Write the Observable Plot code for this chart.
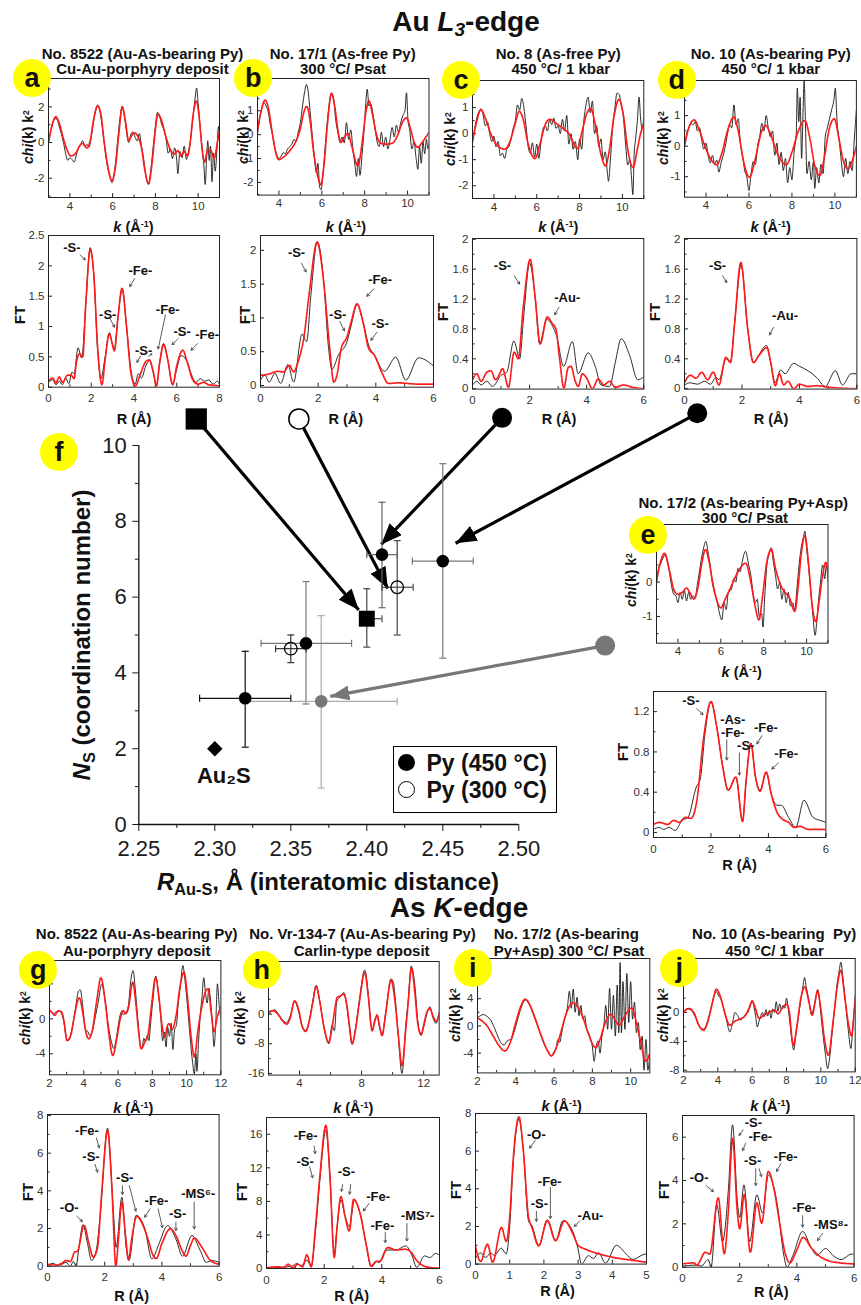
<!DOCTYPE html>
<html><head><meta charset="utf-8">
<script src="https://cdn.jsdelivr.net/npm/d3@7"></script>
<script src="https://cdn.jsdelivr.net/npm/@observablehq/plot@0.6"></script>
<style>
body{margin:0;background:#fff;}
#fig{position:relative;width:861px;height:1305px;overflow:hidden;font-family:"Liberation Sans",Arial,Helvetica,sans-serif;color:#111;background:#fff;}
.t{position:absolute;white-space:nowrap;line-height:1;font-weight:bold;transform:translate(-50%,-50%);}
.rot{transform:translate(-50%,-50%) rotate(-90deg);}
.t sub{font-size:0.68em;vertical-align:-0.28em;line-height:0;}
.t sup{font-size:0.62em;vertical-align:0.5em;line-height:0;}
.badge{position:absolute;width:38px;height:38px;border-radius:50%;background:#ffff00;transform:translate(-50%,-50%);font-weight:bold;font-size:27px;line-height:38px;text-align:center;}
.legend{position:absolute;border:1.5px solid #000;background:#fff;}
.legend .it{position:absolute;left:0;font-weight:bold;font-size:23px;line-height:1;white-space:nowrap;}
.legend .dot{position:absolute;width:17px;height:17px;border-radius:50%;box-sizing:border-box;}
</style></head>
<body><div id="fig"></div>
<script>
// ===================== DATA =====================
// Au L3-edge, k-space chi(k)k^2 : experiment (black) and fit (red)   [k, value]
const aK_exp=[[3.0,0.0],[3.1,0.6],[3.2,1.1],[3.3,1.35],[3.4,1.3],[3.5,0.9],[3.6,0.5],[3.7,0.0],[3.8,-0.6],[3.9,-1.0],[4.0,-0.85],[4.1,-0.95],[4.2,-1.1],[4.3,-0.7],[4.4,-0.3],[4.5,-0.1],[4.6,0.1],[4.7,-0.25],[4.8,-0.1],[4.9,-0.25],[5.0,0.3],[5.1,1.1],[5.2,1.8],[5.3,2.1],[5.4,1.8],[5.5,1.0],[5.6,0.0],[5.7,-0.9],[5.8,-1.6],[5.9,-2.0],[5.97,-2.25],[6.05,-1.9],[6.15,-1.0],[6.25,0.3],[6.35,1.4],[6.45,2.05],[6.55,1.5],[6.65,0.6],[6.75,0.0],[6.85,0.45],[6.95,0.6],[7.05,0.3],[7.15,0.1],[7.25,0.5],[7.35,-0.2],[7.45,-0.9],[7.55,-1.8],[7.68,-2.35],[7.8,-1.4],[7.9,-0.2],[8.0,0.9],[8.1,1.7],[8.2,1.45],[8.3,1.0],[8.4,0.7],[8.5,0.2],[8.6,-0.6],[8.7,-0.35],[8.8,-0.9],[8.9,-0.3],[9.0,-1.0],[9.05,-1.75],[9.15,-0.5],[9.25,-0.85],[9.35,-0.2],[9.45,-0.95],[9.55,-0.5],[9.65,0.2],[9.75,1.3],[9.85,2.4],[9.93,3.05],[10.0,2.2],[10.1,0.8],[10.2,-0.5],[10.27,-1.3],[10.33,-2.35],[10.4,-0.8],[10.45,0.1],[10.52,-1.0],[10.58,-0.2],[10.65,-2.2],[10.72,-0.6],[10.8,-1.6],[10.88,-0.4],[10.95,0.9],[11.0,0.3]];
const aK_fit=[[3.0,0.0],[3.15,0.9],[3.35,1.45],[3.5,1.1],[3.7,0.2],[3.85,-0.35],[4.05,-0.75],[4.3,-0.55],[4.45,-0.2],[4.6,-0.05],[4.8,-0.3],[4.95,0.1],[5.1,1.2],[5.3,2.05],[5.45,1.6],[5.6,0.1],[5.8,-1.5],[5.97,-2.15],[6.15,-1.2],[6.3,0.6],[6.45,2.0],[6.6,1.2],[6.75,0.1],[6.85,0.3],[7.0,0.55],[7.2,0.3],[7.35,-0.3],[7.5,-1.5],[7.68,-2.3],[7.85,-1.1],[8.0,0.7],[8.12,1.6],[8.3,1.2],[8.5,0.3],[8.7,-0.4],[8.9,-0.65],[9.05,-0.45],[9.2,-0.75],[9.35,-0.5],[9.5,-0.75],[9.62,-0.1],[9.75,1.4],[9.92,2.33],[10.05,1.4],[10.18,-0.3],[10.3,-1.1],[10.45,-0.4],[10.6,-0.45],[10.75,-0.9],[10.9,0.0],[11.0,0.6]];
const bK_exp=[[3.0,0.0],[3.1,0.7],[3.2,1.1],[3.3,1.35],[3.4,1.2],[3.5,0.95],[3.6,0.4],[3.7,0.0],[3.8,-0.5],[3.9,-0.85],[4.0,-1.0],[4.1,-0.9],[4.2,-0.75],[4.3,-0.8],[4.4,-0.6],[4.5,-0.5],[4.6,-0.4],[4.7,-0.2],[4.8,-0.3],[4.9,0.1],[5.0,0.5],[5.1,1.2],[5.2,1.8],[5.28,2.1],[5.35,1.9],[5.45,1.0],[5.55,0.0],[5.65,-0.9],[5.75,-1.6],[5.82,-1.2],[5.9,-2.2],[5.97,-2.3],[6.05,-1.7],[6.15,-0.6],[6.25,0.5],[6.35,1.3],[6.45,1.75],[6.55,1.5],[6.65,0.6],[6.75,0.1],[6.85,-0.3],[6.95,-0.1],[7.05,-0.35],[7.15,0.5],[7.25,-0.2],[7.35,0.2],[7.45,-0.6],[7.55,-1.3],[7.62,-1.75],[7.7,-1.0],[7.78,-1.7],[7.88,-0.8],[7.98,0.3],[8.05,1.3],[8.12,1.9],[8.2,1.2],[8.28,1.3],[8.38,0.9],[8.48,0.3],[8.58,-0.3],[8.68,-0.5],[8.78,0.1],[8.88,-0.5],[8.98,-0.1],[9.08,-0.6],[9.18,-0.2],[9.28,0.3],[9.38,-0.1],[9.48,0.4],[9.58,0.1],[9.68,0.5],[9.78,0.8],[9.88,1.0],[9.95,1.75],[10.02,0.6],[10.1,0.2],[10.2,-0.6],[10.3,-0.3],[10.4,-1.0],[10.48,-1.45],[10.56,-0.5],[10.64,-1.2],[10.72,-0.3],[10.8,-0.8],[10.88,-0.2],[10.95,-0.6],[11.0,-0.4]];
const bK_fit=[[3.0,0.2],[3.15,0.9],[3.35,1.45],[3.5,1.15],[3.7,0.0],[3.85,-0.75],[4.0,-1.05],[4.2,-0.95],[4.5,-0.68],[4.8,-0.26],[5.0,0.25],[5.15,0.9],[5.3,1.18],[5.45,0.6],[5.6,-0.6],[5.8,-1.7],[5.95,-2.1],[6.1,-1.3],[6.25,0.3],[6.45,1.72],[6.6,1.2],[6.75,0.2],[6.88,-0.33],[7.05,-0.1],[7.22,0.05],[7.4,-0.5],[7.68,-1.3],[7.9,-0.2],[8.05,0.9],[8.2,1.42],[8.35,0.9],[8.55,0.0],[8.74,-0.36],[9.0,-0.4],[9.3,-0.35],[9.55,0.0],[9.75,0.5],[9.95,0.7],[10.15,0.2],[10.3,-0.3],[10.48,-0.53],[10.7,-0.3],[11.0,0.1]];
const cK_exp=[[3.0,-0.3],[3.1,0.2],[3.2,0.6],[3.3,0.85],[3.4,0.95],[3.5,0.7],[3.6,0.3],[3.7,0.45],[3.8,0.0],[3.9,-0.3],[4.0,-0.1],[4.1,-0.5],[4.2,-0.3],[4.3,-0.85],[4.4,-0.75],[4.5,-0.95],[4.6,-0.6],[4.7,-0.5],[4.8,-0.2],[4.9,0.2],[5.0,0.5],[5.1,1.1],[5.2,0.9],[5.3,1.35],[5.4,1.0],[5.5,0.3],[5.6,-0.5],[5.7,-0.75],[5.8,-0.35],[5.9,-0.9],[6.0,-0.4],[6.1,-0.95],[6.2,-0.3],[6.3,0.2],[6.4,0.3],[6.5,0.1],[6.6,0.55],[6.7,0.35],[6.8,0.6],[6.9,0.2],[7.0,0.3],[7.1,0.0],[7.2,0.55],[7.3,0.1],[7.4,0.7],[7.5,-0.4],[7.6,0.0],[7.7,-0.6],[7.8,-0.3],[7.92,-1.0],[8.0,-0.2],[8.1,-0.6],[8.2,0.5],[8.3,1.1],[8.4,1.4],[8.5,0.8],[8.6,1.25],[8.7,0.0],[8.8,0.3],[8.9,-0.5],[9.0,-0.2],[9.1,-1.0],[9.2,-0.7],[9.3,-1.5],[9.35,-1.83],[9.45,-0.9],[9.55,0.3],[9.65,1.0],[9.75,1.56],[9.85,1.5],[9.95,1.1],[10.05,0.6],[10.15,-0.4],[10.25,-1.2],[10.35,-1.0],[10.42,-1.6],[10.49,-2.34],[10.55,-0.8],[10.62,-0.2],[10.7,0.5],[10.78,1.4],[10.85,0.6],[10.92,0.2],[11.0,0.6]];
const cK_fit=[[3.0,-0.32],[3.15,0.3],[3.4,0.92],[3.6,0.6],[3.85,0.0],[4.1,-0.4],[4.5,-0.6],[4.75,-0.3],[5.0,0.4],[5.18,0.86],[5.35,0.6],[5.6,-0.4],[5.92,-0.96],[6.15,-0.4],[6.4,0.35],[6.6,0.55],[6.9,0.4],[7.2,0.22],[7.5,0.0],[7.9,-0.57],[8.15,0.2],[8.35,0.8],[8.52,0.96],[8.75,0.3],[9.0,-0.8],[9.21,-1.24],[9.4,-0.6],[9.6,0.6],[9.84,1.32],[10.05,0.7],[10.25,-0.6],[10.5,-1.3],[10.7,-0.6],[10.85,0.0],[11.0,0.36]];
const dK_exp=[[3.0,0.0],[3.1,0.4],[3.2,0.6],[3.3,0.75],[3.4,0.7],[3.5,0.8],[3.6,0.5],[3.7,0.6],[3.8,0.2],[3.9,-0.1],[4.0,0.1],[4.1,-0.3],[4.2,-0.55],[4.3,-0.3],[4.4,-0.6],[4.5,-0.45],[4.6,-0.85],[4.7,-0.55],[4.8,-0.3],[4.9,0.0],[5.0,0.4],[5.1,0.7],[5.2,0.6],[5.3,1.35],[5.4,0.7],[5.5,0.9],[5.6,0.1],[5.7,-0.3],[5.8,-0.8],[5.9,-1.0],[6.0,-1.45],[6.1,-0.9],[6.2,-0.5],[6.3,-0.6],[6.4,0.0],[6.5,0.3],[6.6,0.75],[6.7,0.5],[6.8,1.0],[6.9,0.6],[7.0,0.3],[7.1,0.5],[7.2,-0.3],[7.3,0.1],[7.4,-0.6],[7.5,-0.2],[7.6,-0.8],[7.7,-0.4],[7.8,-1.2],[7.9,-0.7],[8.0,-1.1],[8.1,-0.2],[8.2,0.4],[8.25,1.9],[8.32,0.8],[8.38,1.6],[8.45,-0.4],[8.52,1.2],[8.57,2.15],[8.62,1.0],[8.7,-0.9],[8.8,-0.5],[8.9,-1.1],[9.0,-0.5],[9.06,-1.38],[9.15,-0.7],[9.25,-1.2],[9.35,-0.6],[9.45,-0.9],[9.55,0.3],[9.65,0.6],[9.75,0.9],[9.85,1.2],[9.95,1.5],[10.02,1.9],[10.1,0.8],[10.2,0.2],[10.3,-0.5],[10.4,-1.0],[10.5,-0.4],[10.6,-0.9],[10.7,-0.5],[10.8,-0.8],[10.9,0.2],[11.0,1.2]];
const dK_fit=[[3.0,0.0],[3.2,0.6],[3.45,0.86],[3.7,0.5],[3.95,0.0],[4.2,-0.4],[4.5,-0.61],[4.75,-0.2],[5.0,0.5],[5.29,0.95],[5.5,0.5],[5.75,-0.5],[6.02,-1.02],[6.3,-0.4],[6.55,0.4],[6.77,0.68],[7.0,0.4],[7.3,-0.2],[7.74,-0.61],[8.0,-0.2],[8.3,0.5],[8.6,0.84],[8.85,0.2],[9.05,-0.6],[9.3,-0.96],[9.5,-0.4],[9.75,0.6],[9.97,0.9],[10.2,0.2],[10.4,-0.5],[10.62,-0.74],[10.8,-0.5],[11.0,0.0]];
const eK_exp=[[3.0,0.0],[3.1,0.4],[3.2,0.55],[3.3,0.7],[3.4,0.8],[3.5,0.6],[3.6,0.3],[3.7,-0.1],[3.8,-0.35],[3.9,-0.4],[4.0,-0.6],[4.1,-0.3],[4.2,-0.5],[4.3,-0.25],[4.4,-0.55],[4.5,-0.3],[4.6,-0.5],[4.7,-0.4],[4.8,-0.45],[4.9,-0.1],[5.0,0.3],[5.1,0.7],[5.2,1.0],[5.3,1.19],[5.4,0.9],[5.5,0.5],[5.6,0.0],[5.7,-0.3],[5.8,-0.5],[5.9,-0.8],[6.05,-1.1],[6.15,-0.6],[6.25,-0.8],[6.35,-0.3],[6.5,-0.2],[6.6,0.1],[6.7,0.0],[6.8,0.4],[6.9,0.3],[7.0,0.6],[7.15,0.9],[7.3,0.5],[7.4,0.2],[7.5,-0.3],[7.6,-0.6],[7.7,-0.5],[7.8,-1.0],[7.9,-0.9],[7.97,-1.31],[8.05,-0.4],[8.15,0.5],[8.25,0.8],[8.35,1.0],[8.45,0.6],[8.55,0.2],[8.65,-0.2],[8.75,0.0],[8.85,-0.5],[8.95,-0.2],[9.05,-0.6],[9.15,-0.3],[9.25,-0.7],[9.35,-0.6],[9.45,-0.8],[9.55,-0.2],[9.65,0.5],[9.75,1.0],[9.85,1.3],[9.92,1.49],[10.0,1.0],[10.1,0.4],[10.2,-0.3],[10.3,-1.0],[10.4,-1.55],[10.47,-1.2],[10.55,-0.6],[10.65,0.0],[10.75,0.5],[10.85,0.1],[10.92,0.5],[11.0,0.0]];
const eK_fit=[[3.0,0.0],[3.15,0.5],[3.38,0.84],[3.6,0.35],[3.8,-0.2],[4.0,-0.36],[4.2,-0.3],[4.4,-0.17],[4.55,-0.3],[4.75,-0.49],[4.95,-0.1],[5.1,0.5],[5.29,0.95],[5.45,0.6],[5.65,-0.1],[5.85,-0.6],[6.0,-0.75],[6.2,-0.5],[6.5,-0.1],[6.8,0.3],[7.16,0.55],[7.4,0.0],[7.6,-0.7],[7.78,-1.1],[7.95,-0.4],[8.15,0.6],[8.36,0.95],[8.55,0.4],[8.8,-0.1],[9.0,-0.3],[9.2,-0.45],[9.45,-0.85],[9.6,-0.2],[9.75,0.8],[9.92,1.36],[10.1,0.5],[10.25,-0.6],[10.43,-1.15],[10.6,-0.5],[10.75,0.2],[10.9,0.58],[11.0,0.3]];
// Au L3-edge, Fourier transforms   [R, FT]
const aFT_exp=[[0,0.08],[0.2,0.12],[0.35,0.04],[0.5,0.1],[0.65,0.04],[0.8,0.15],[0.95,0.06],[1.1,0.25],[1.2,0.22],[1.38,0.65],[1.55,0.48],[1.75,1.4],[1.95,2.3],[2.12,1.85],[2.3,0.6],[2.45,0.14],[2.65,0.5],[2.85,0.9],[2.98,0.72],[3.08,0.62],[3.25,1.15],[3.45,1.62],[3.65,1.0],[3.85,0.3],[4.05,0.05],[4.2,0.22],[4.35,0.15],[4.55,0.35],[4.72,0.44],[4.9,0.25],[5.05,0.02],[5.2,0.4],[5.38,0.72],[5.58,0.45],[5.8,0.05],[6.0,0.3],[6.2,0.52],[6.45,0.45],[6.7,0.2],[6.9,0.08],[7.1,0.14],[7.3,0.1],[7.5,0.12],[7.7,0.05],[7.9,0.1],[8.0,0.05]];
const aFT_fit=[[0,0.1],[0.2,0.15],[0.35,0.07],[0.5,0.17],[0.65,0.08],[0.9,0.2],[1.05,0.2],[1.2,0.14],[1.3,0.4],[1.45,0.55],[1.6,0.5],[1.75,1.4],[1.95,2.27],[2.12,1.85],[2.3,0.65],[2.5,0.04],[2.65,0.45],[2.84,0.88],[2.98,0.72],[3.08,0.6],[3.25,1.15],[3.44,1.63],[3.65,1.0],[3.85,0.25],[4.06,0.02],[4.3,0.22],[4.55,0.42],[4.72,0.45],[4.9,0.25],[5.05,0.02],[5.2,0.4],[5.39,0.7],[5.58,0.45],[5.81,0.04],[6.0,0.35],[6.28,0.61],[6.5,0.4],[6.75,0.12],[7.0,0.05],[7.25,0.08],[7.5,0.04],[7.75,0.03],[8.0,0.02]];
const bFT_exp=[[0,0.08],[0.15,0.15],[0.3,0.05],[0.5,0.18],[0.7,0.03],[0.95,0.31],[1.15,0.05],[1.44,0.76],[1.6,0.65],[1.75,1.35],[1.97,2.13],[2.2,1.5],[2.35,0.6],[2.48,0.24],[2.7,0.45],[3.0,0.65],[3.15,0.9],[3.35,1.2],[3.55,0.95],[3.75,0.6],[3.95,0.45],[4.3,0.21],[4.69,0.42],[5.04,0.08],[5.48,0.41],[6.0,0.29]];
const bFT_fit=[[0,0.15],[0.3,0.17],[0.6,0.21],[0.8,0.2],[1.0,0.3],[1.15,0.2],[1.3,0.35],[1.5,0.7],[1.7,1.4],[1.96,2.12],[2.2,1.5],[2.4,0.55],[2.54,0.05],[2.65,0.15],[2.8,0.55],[3.0,0.72],[3.15,0.95],[3.35,1.21],[3.55,0.95],[3.75,0.55],[3.95,0.45],[4.2,0.2],[4.44,0.03],[4.8,0.04],[5.1,0.03],[5.5,0.02],[6.0,0.02]];
const cFT_exp=[[0,0.05],[0.15,0.1],[0.3,0.05],[0.5,0.1],[0.7,0.03],[1.0,0.18],[1.2,0.22],[1.45,0.64],[1.65,0.4],[1.8,1.0],[2.0,1.68],[2.2,1.2],[2.35,0.6],[2.6,0.93],[2.8,0.84],[2.95,0.7],[3.19,0.3],[3.5,0.63],[3.7,0.2],[4.05,0.48],[4.3,0.3],[4.5,0.05],[4.8,0.03],[5.0,0.35],[5.21,0.67],[5.5,0.45],[5.79,0.12],[6.0,0.16]];
const cFT_fit=[[0,0.12],[0.15,0.2],[0.3,0.1],[0.5,0.22],[0.65,0.24],[0.8,0.12],[0.95,0.2],[1.05,0.27],[1.26,0.02],[1.46,0.49],[1.6,0.4],[1.78,1.1],[2.02,1.73],[2.2,1.2],[2.37,0.6],[2.62,0.96],[2.78,0.88],[2.92,0.8],[3.05,0.4],[3.2,0.01],[3.35,0.28],[3.45,0.3],[3.6,0.1],[3.7,0.03],[3.85,0.2],[4.0,0.14],[4.2,0.0],[4.4,0.13],[4.6,0.05],[4.8,0.1],[5.0,0.02],[5.3,0.05],[5.6,0.02],[6.0,0.0]];
const dFT_exp=[[0,0.05],[0.2,0.08],[0.45,0.06],[0.7,0.1],[0.9,0.06],[1.1,0.15],[1.2,0.12],[1.45,0.4],[1.6,0.37],[1.75,0.9],[1.97,1.66],[2.2,0.8],[2.4,0.35],[2.6,0.46],[2.85,0.58],[3.0,0.35],[3.15,0.08],[3.35,0.25],[3.5,0.2],[3.8,0.34],[4.0,0.3],[4.3,0.24],[4.6,0.15],[4.9,0.03],[5.25,0.24],[5.5,0.05],[5.8,0.2],[6.0,0.2]];
const dFT_fit=[[0,0.08],[0.2,0.18],[0.4,0.14],[0.6,0.22],[0.8,0.12],[1.0,0.22],[1.2,0.05],[1.44,0.42],[1.6,0.35],[1.75,0.9],[1.96,1.69],[2.2,0.8],[2.4,0.35],[2.6,0.45],[2.87,0.55],[3.0,0.35],[3.16,0.04],[3.3,0.2],[3.45,0.05],[3.6,0.1],[3.8,0.0],[4.0,0.06],[4.3,0.03],[4.6,0.04],[5.0,0.02],[6.0,0.0]];
const eFT_exp=[[0,0.03],[0.2,0.05],[0.35,0.03],[0.55,0.05],[0.75,0.02],[1.0,0.12],[1.2,0.15],[1.5,0.46],[1.62,0.52],[1.8,1.0],[2.0,1.3],[2.2,1.05],[2.4,0.67],[2.6,0.42],[2.87,0.55],[3.1,0.11],[3.22,0.5],[3.39,0.89],[3.55,0.55],[3.71,0.42],[3.92,0.6],[4.1,0.38],[4.3,0.27],[4.45,0.27],[4.7,0.15],[4.95,0.05],[5.24,0.32],[5.55,0.15],[5.8,0.12],[6.0,0.1]];
const eFT_fit=[[0,0.08],[0.2,0.1],[0.5,0.08],[0.7,0.12],[0.9,0.1],[1.1,0.15],[1.3,0.14],[1.5,0.3],[1.75,0.95],[2.0,1.3],[2.2,1.05],[2.4,0.67],[2.6,0.42],[2.87,0.55],[3.1,0.11],[3.22,0.5],[3.39,0.88],[3.55,0.55],[3.71,0.41],[3.92,0.6],[4.1,0.38],[4.3,0.2],[4.5,0.13],[4.7,0.1],[4.9,0.05],[5.1,0.06],[5.4,0.03],[6.0,0.03]];
// As K-edge, k-space
const gK_exp=[[2.0,1.0],[2.2,0.6],[2.4,0.8],[2.6,0.9],[2.8,0.0],[3.0,-2.3],[3.1,-2.5],[3.3,-1.3],[3.5,1.0],[3.7,3.2],[3.8,3.3],[3.95,1.2],[4.1,-1.2],[4.25,-1.5],[4.35,-1.9],[4.5,-1.4],[4.7,0.5],[4.85,2.0],[5.05,4.0],[5.25,2.0],[5.45,-1.0],[5.6,-2.5],[5.75,-3.4],[5.9,-2.2],[6.05,-0.3],[6.2,0.8],[6.3,0.5],[6.45,0.7],[6.6,1.5],[6.75,4.5],[6.88,5.5],[7.0,3.5],[7.15,0.0],[7.3,-3.0],[7.4,-3.4],[7.5,-2.2],[7.6,-2.6],[7.7,-1.9],[7.8,-2.5],[7.9,-0.5],[8.05,2.5],[8.2,4.9],[8.35,3.0],[8.5,0.0],[8.6,-2.5],[8.7,-1.5],[8.8,-3.2],[8.9,-1.0],[9.0,-2.0],[9.1,-0.5],[9.2,-3.5],[9.3,-1.2],[9.4,-0.8],[9.5,1.5],[9.65,4.0],[9.78,6.1],[9.9,4.5],[10.05,1.5],[10.2,-2.0],[10.35,-5.0],[10.45,-6.3],[10.55,-4.0],[10.6,-6.0],[10.7,-2.5],[10.8,0.5],[10.9,2.5],[11.0,4.7],[11.1,3.0],[11.2,1.8],[11.3,3.5],[11.4,2.0],[11.5,-0.5],[11.6,-3.16],[11.7,-0.5],[11.8,4.0],[11.9,1.5],[12.0,0.0]];
const gK_fit=[[2.0,1.0],[2.2,0.6],[2.3,0.4],[2.5,0.9],[2.7,0.8],[2.85,-0.3],[3.02,-2.48],[3.25,-1.8],[3.45,0.3],[3.74,2.4],[3.95,0.6],[4.1,-1.3],[4.29,-2.29],[4.5,-1.3],[4.75,2.0],[5.0,4.69],[5.25,2.0],[5.45,-1.5],[5.69,-4.19],[5.95,-2.0],[6.15,0.2],[6.28,0.95],[6.45,0.6],[6.6,1.2],[6.86,4.19],[7.05,1.5],[7.2,-1.5],[7.35,-3.43],[7.55,-2.7],[7.75,-1.8],[7.95,1.5],[8.19,4.69],[8.4,2.2],[8.55,-0.5],[8.72,-2.1],[8.9,-0.7],[8.97,-0.57],[9.15,-1.2],[9.4,0.5],[9.6,3.5],[9.85,5.33],[10.05,2.5],[10.25,-1.8],[10.46,-4.38],[10.65,-1.5],[10.9,1.5],[11.1,3.1],[11.24,3.43],[11.45,0.5],[11.6,-1.5],[11.8,0.3],[12.0,1.33]];
const hK_exp=[[2.0,0.0],[2.2,0.8],[2.4,1.2],[2.6,0.2],[2.9,-1.5],[3.16,-2.3],[3.4,-0.5],[3.68,3.4],[3.95,0.5],[4.15,-3.0],[4.39,-4.4],[4.65,-1.2],[4.85,3.5],[5.07,7.8],[5.3,3.5],[5.55,-3.0],[5.89,-8.0],[6.1,-3.0],[6.25,-4.5],[6.4,3.5],[6.6,4.5],[6.85,5.8],[7.05,2.0],[7.2,-3.0],[7.39,-8.2],[7.6,-4.0],[7.85,3.5],[8.2,11.9],[8.45,4.5],[8.6,-3.0],[8.7,-4.0],[8.85,-1.5],[9.0,-0.5],[9.15,-3.5],[9.32,-5.5],[9.55,0.5],[9.9,9.5],[10.05,8.5],[10.15,5.0],[10.35,-5.0],[10.6,-16.0],[10.85,-3.0],[11.0,3.5],[11.2,13.0],[11.35,10.5],[11.45,7.0],[11.6,-1.0],[11.83,-5.8],[12.0,-3.5],[12.2,0.0],[12.4,2.0],[12.6,-1.0],[12.8,-2.5],[13.0,0.5]];
const hK_fit=[[2.0,0.6],[2.3,0.9],[2.6,0.0],[2.9,-1.8],[3.16,-2.7],[3.4,-1.0],[3.68,3.6],[3.95,1.0],[4.15,-3.0],[4.39,-4.67],[4.65,-1.5],[4.85,3.0],[5.07,7.46],[5.3,3.5],[5.55,-3.0],[5.89,-7.64],[6.1,-3.5],[6.3,2.0],[6.42,4.5],[6.6,4.8],[6.85,5.4],[7.05,2.5],[7.2,-2.5],[7.39,-7.9],[7.6,-4.5],[7.85,3.0],[8.2,11.2],[8.45,4.0],[8.68,-4.5],[8.85,-2.0],[9.0,-0.2],[9.15,-3.0],[9.32,-5.84],[9.55,0.0],[9.9,9.2],[10.15,3.5],[10.35,-5.0],[10.61,-13.9],[10.85,-4.0],[11.0,3.0],[11.21,12.4],[11.45,5.0],[11.6,-2.0],[11.83,-5.4],[12.0,-3.0],[12.2,0.5],[12.4,1.5],[12.6,-0.5],[12.8,-2.0],[13.0,0.0]];
const iK_exp=[[2.0,1.2],[2.15,1.5],[2.3,1.67],[2.5,1.4],[2.7,0.8],[2.9,-0.4],[3.1,-1.8],[3.25,-2.6],[3.4,-2.8],[3.5,-2.4],[3.6,-2.1],[3.75,-2.0],[3.9,-1.0],[4.1,1.0],[4.3,2.8],[4.5,3.8],[4.7,3.2],[4.9,1.8],[5.1,0.3],[5.3,-1.3],[5.5,-2.8],[5.7,-3.8],[5.86,-4.4],[6.0,-3.8],[6.1,-3.3],[6.2,-2.0],[6.3,-2.4],[6.4,-1.0],[6.5,0.5],[6.6,1.5],[6.7,2.8],[6.8,5.1],[6.9,2.6],[7.0,5.4],[7.1,2.0],[7.2,4.2],[7.3,1.5],[7.4,3.0],[7.5,1.0],[7.6,1.5],[7.7,-0.5],[7.8,-1.0],[7.9,-2.0],[8.0,-3.0],[8.09,-5.2],[8.2,-3.0],[8.3,-2.2],[8.4,-4.0],[8.5,-1.5],[8.6,0.0],[8.7,3.0],[8.8,-0.5],[8.9,5.5],[9.0,-0.5],[9.1,4.5],[9.2,-1.5],[9.3,6.0],[9.38,-1.0],[9.45,9.3],[9.52,-1.0],[9.6,6.5],[9.7,-0.5],[9.8,7.7],[9.9,0.5],[10.0,6.5],[10.1,1.0],[10.2,3.5],[10.3,-1.0],[10.4,0.5],[10.5,-3.5],[10.6,-1.5],[10.7,-6.5],[10.8,-2.0],[10.9,-6.5],[11.0,-4.0]];
const iK_fit=[[2.0,1.18],[2.25,0.7],[2.5,0.0],[2.8,-1.4],[3.1,-2.8],[3.43,-3.68],[3.7,-2.5],[4.0,0.5],[4.25,2.8],[4.49,3.92],[4.75,3.0],[5.0,1.2],[5.3,-1.2],[5.6,-3.3],[5.86,-4.41],[6.1,-3.3],[6.35,-1.0],[6.6,1.5],[6.96,3.38],[7.2,3.0],[7.5,1.3],[7.8,-1.2],[8.17,-3.19],[8.4,-2.0],[8.65,0.3],[8.96,1.72],[9.2,0.8],[9.4,0.1],[9.7,1.5],[10.05,2.65],[10.3,0.5],[10.5,-2.0],[10.78,-5.15],[10.9,-4.8],[11.0,-4.0]];
const jK_exp=[[2.0,0.0],[2.2,0.5],[2.4,0.4],[2.6,-0.2],[2.8,-1.2],[3.0,-2.2],[3.17,-2.3],[3.4,-1.2],[3.6,0.6],[3.8,2.5],[3.91,2.9],[4.05,2.3],[4.2,1.8],[4.35,0.5],[4.5,-1.0],[4.7,-2.7],[4.85,-1.5],[5.0,0.0],[5.15,-0.4],[5.3,-1.0],[5.45,-0.8],[5.6,-0.3],[5.75,0.0],[5.9,1.0],[6.0,1.7],[6.1,0.8],[6.2,-0.5],[6.3,-2.0],[6.4,-1.2],[6.5,-0.5],[6.6,0.0],[6.7,-0.6],[6.8,0.4],[6.9,-0.5],[7.0,0.3],[7.1,-0.8],[7.2,0.5],[7.3,0.0],[7.4,1.5],[7.5,0.2],[7.6,1.2],[7.7,0.4],[7.8,1.0],[7.9,0.6],[8.0,2.0],[8.1,0.5],[8.2,-1.5],[8.3,-3.5],[8.42,-5.2],[8.55,-3.0],[8.7,-0.5],[8.85,2.0],[8.95,3.5],[9.05,4.86],[9.15,3.5],[9.3,1.8],[9.45,-0.3],[9.55,0.3],[9.7,2.0],[9.82,3.2],[9.95,1.0],[10.1,-2.5],[10.25,-5.5],[10.4,-7.78],[10.5,-6.5],[10.65,-3.0],[10.8,0.5],[10.95,4.0],[11.08,6.0],[11.16,6.99],[11.3,4.5],[11.45,1.0],[11.6,-2.5],[11.75,-5.0],[11.85,-2.5],[11.95,0.5],[12.0,2.5]];
const jK_fit=[[2.0,0.0],[2.3,0.56],[2.6,0.0],[2.9,-1.8],[3.17,-2.45],[3.45,-1.0],[3.7,1.5],[3.91,3.24],[4.15,2.2],[4.4,0.0],[4.69,-1.76],[5.0,-1.2],[5.3,-0.9],[5.6,-0.4],[5.8,0.5],[6.0,1.57],[6.2,0.5],[6.4,-0.83],[6.7,-0.3],[7.0,0.0],[7.2,0.3],[7.35,0.3],[7.5,-0.2],[7.75,0.6],[8.0,1.16],[8.15,0.3],[8.39,-4.54],[8.6,-2.0],[8.8,1.5],[9.06,3.56],[9.3,1.5],[9.5,-0.37],[9.65,1.2],[9.8,3.0],[10.0,0.5],[10.2,-3.5],[10.44,-5.93],[10.7,-1.5],[10.95,3.5],[11.16,5.88],[11.4,2.0],[11.6,-1.5],[11.79,-3.24],[11.9,-1.0],[12.0,1.94]];
// As K-edge, Fourier transforms
const gFT_exp=[[0,0.05],[0.2,0.15],[0.35,0.05],[0.5,0.1],[0.65,0.2],[0.8,0.0],[0.9,0.25],[1.0,0.0],[1.1,1.0],[1.24,2.21],[1.4,1.2],[1.54,0.3],[1.7,0.8],[1.85,2.8],[2.1,7.33],[2.3,3.0],[2.4,1.0],[2.6,3.66],[2.75,1.0],[2.85,0.3],[3.1,2.7],[3.4,2.0],[3.65,0.39],[3.9,1.2],[4.2,2.16],[4.5,1.4],[4.72,0.53],[5.05,1.63],[5.35,0.8],[5.55,0.2],[5.75,0.3],[6.0,0.2]];
const gFT_fit=[[0,0.1],[0.3,0.05],[0.5,0.15],[0.65,0.3],[0.8,0.25],[0.95,0.75],[1.05,0.8],[1.28,2.16],[1.45,1.2],[1.6,0.48],[1.75,1.0],[1.9,4.0],[2.1,7.2],[2.25,4.2],[2.39,0.0],[2.47,1.2],[2.6,3.4],[2.73,1.6],[2.83,0.35],[2.95,1.5],[3.12,2.65],[3.3,2.3],[3.5,1.5],[3.7,0.55],[3.8,0.4],[4.0,1.2],[4.29,1.98],[4.5,1.6],[4.7,0.85],[4.84,0.53],[5.0,1.1],[5.13,1.49],[5.4,1.0],[5.7,0.3],[6.0,0.1]];
const hFT_exp=[[0,0.05],[0.4,0.1],[0.7,0.2],[0.9,0.3],[1.05,0.6],[1.2,0.3],[1.4,1.0],[1.55,0.3],[1.7,4.5],[1.85,10.5],[2.06,16.5],[2.2,11.0],[2.35,1.8],[2.45,5.0],[2.58,8.2],[2.72,6.3],[2.87,5.0],[3.05,8.1],[3.25,6.5],[3.45,3.0],[3.62,0.3],[3.8,0.9],[3.9,0.7],[4.15,2.2],[4.5,2.2],[4.83,2.7],[5.05,1.5],[5.21,0.12],[5.48,1.5],[5.68,1.3],[5.85,1.79],[6.0,1.6]];
const hFT_fit=[[0,0.1],[0.4,0.2],[0.6,0.1],[0.75,0.5],[0.9,0.1],[1.1,0.5],[1.25,0.2],[1.4,1.63],[1.55,0.2],[1.7,5.0],[1.85,11.0],[2.06,17.06],[2.2,11.0],[2.35,1.3],[2.45,5.0],[2.58,8.57],[2.72,6.3],[2.87,4.48],[3.02,8.25],[3.25,6.5],[3.45,3.0],[3.64,0.24],[3.8,0.8],[3.95,0.9],[4.2,2.5],[4.5,2.2],[4.8,2.3],[5.0,2.0],[5.2,1.0],[5.4,0.4],[5.7,0.1],[6.0,0.05]];
const iFT_exp=[[0,0.3],[0.15,0.6],[0.3,0.35],[0.45,0.6],[0.55,0.45],[0.75,0.85],[0.9,0.55],[1.0,2.0],[1.1,5.3],[1.27,7.7],[1.4,6.0],[1.55,2.3],[1.65,2.04],[1.85,1.0],[2.1,2.35],[2.35,1.25],[2.55,2.3],[2.8,1.9],[3.0,0.8],[3.1,0.0],[3.3,0.45],[3.45,0.3],[3.6,0.6],[3.8,0.05],[4.12,1.0],[4.4,0.55],[4.6,0.25],[4.9,0.5],[5.0,0.55]];
const iFT_fit=[[0,0.92],[0.15,0.14],[0.35,1.06],[0.5,0.1],[0.76,1.95],[0.9,1.2],[1.0,2.5],[1.1,5.5],[1.27,7.82],[1.4,6.0],[1.55,2.5],[1.65,1.95],[1.85,0.97],[2.1,2.3],[2.34,1.24],[2.6,2.3],[2.85,1.6],[3.0,1.0],[3.2,0.8],[3.5,0.6],[3.8,0.45],[4.2,0.3],[4.6,0.2],[5.0,0.1]];
const jFT_exp=[[0,0.05],[0.5,0.1],[0.65,0.05],[0.9,0.35],[1.0,0.0],[1.2,2.88],[1.4,1.18],[1.6,3.5],[1.75,6.57],[1.92,3.0],[2.0,2.3],[2.15,3.8],[2.35,1.18],[2.6,3.34],[2.8,2.5],[3.0,4.25],[3.3,3.0],[3.55,0.5],[3.65,0.0],[3.85,0.5],[4.2,1.65],[4.5,0.9],[4.7,0.55],[5.0,0.86],[5.3,0.5],[5.55,0.35],[5.9,0.6],[6.0,0.6]];
const jFT_fit=[[0,0.15],[0.4,0.2],[0.5,0.1],[0.8,0.69],[0.95,0.6],[1.25,3.2],[1.46,0.62],[1.6,2.5],[1.75,5.95],[1.92,2.5],[2.0,1.77],[2.16,3.35],[2.37,0.69],[2.6,2.97],[2.77,2.03],[3.0,4.42],[3.2,3.6],[3.4,2.0],[3.6,0.6],[3.75,0.2],[4.0,0.8],[4.22,1.38],[4.5,0.9],[4.8,0.5],[5.1,0.3],[5.5,0.2],[6.0,0.15]];
// FT peak annotations: [label, R, FT] and arrows [R1, FT1, R2, FT2]
const aFT_notes=[["-S-",1.09,2.29],["-Fe-",4.3,1.92],["-S-",2.77,1.2],["-Fe-",5.58,1.28],["-S-",4.45,0.6],["-S-",6.25,0.92],["-Fe-",7.42,0.87]];
const aFT_arrows=[[1.48,2.18,1.72,2.10],[4.03,1.79,3.8,1.66],[2.89,1.12,3.09,0.99],[5.47,1.19,5.13,0.63],[4.3,0.51,4.14,0.41],[4.69,0.51,4.84,0.55],[6.06,0.8,5.78,0.7],[6.98,0.72,6.67,0.61]];
const bFT_notes=[["-S-",1.25,1.97],["-Fe-",4.15,1.57],["-S-",2.68,1.05],["-S-",4.15,0.91]];
const bFT_arrows=[[1.42,1.81,1.58,1.68],[3.92,1.43,3.69,1.32],[2.75,0.95,2.91,0.81],[4.04,0.79,3.83,0.67]];
const cFT_notes=[["-S-",1.05,1.65],["-Au-",3.32,1.21]];
const cFT_arrows=[[1.46,1.51,1.65,1.4],[3.03,1.09,2.88,0.99]];
const dFT_notes=[["-S-",1.15,1.65],["-Au-",3.5,0.98]];
const dFT_arrows=[[1.33,1.51,1.47,1.42],[3.1,0.82,2.96,0.72]];
const eFT_notes=[["-S-",1.3,1.31],["-As-",2.76,1.12],["-Fe-",2.76,0.99],["-S-",3.21,0.86],["-Fe-",3.91,1.04],["-Fe-",4.62,0.78]];
const eFT_arrows=[[1.51,1.23,1.72,1.17],[2.55,0.92,2.55,0.72],[2.99,0.79,2.99,0.57],[3.77,0.96,3.6,0.88],[4.35,0.69,4.12,0.63]];
const gFT_notes=[["-O-",0.76,3.08],["-Fe-",1.38,7.2],["-S-",1.52,5.79],["-S-",2.7,4.69],["-Fe-",3.81,3.49],["-S-",4.55,2.78],["-MS\u2076-",5.27,3.84]];
const gFT_arrows=[[1.03,2.64,1.22,2.37],[1.71,6.8,1.81,6.28],[1.66,5.4,1.75,4.99],[2.62,4.28,2.62,3.81],[2.86,4.28,3.09,2.92],[3.58,3.04,3.4,2.6],[3.87,3.04,4.02,2.04],[4.49,2.34,4.49,1.89],[5.13,3.4,5.13,1.98]];
const hFT_notes=[["-Fe-",1.36,15.8],["-S-",1.34,12.7],["-S-",2.77,11.5],["-Fe-",3.87,8.53],["-Fe-",4.02,5.08],["-MS\u2077-",5.24,6.27]];
const hFT_arrows=[[1.65,14.6,1.69,13.7],[1.5,12.1,1.6,10.8],[2.64,10.0,2.6,9.2],[2.92,10.0,2.88,8.85],[3.56,7.74,3.36,6.87],[4.12,4.29,4.12,3.1],[4.87,5.36,4.87,3.29]];
const iFT_notes=[["-O-",1.78,6.85],["-Fe-",2.17,4.37],["-S-",1.87,3.22],["-Au-",3.36,2.57]];
const iFT_arrows=[[1.75,6.58,1.58,6.16],[2.19,4.07,2.19,2.42],[1.78,2.8,1.78,2.27],[3.05,2.3,2.89,2.0]];
const jFT_notes=[["-O-",0.58,4.12],["-S-",2.48,6.65],["-Fe-",2.72,6.0],["-S-",2.45,4.89],["-Fe-",3.61,5.11],["-Fe-",4.25,2.72],["-MS\u2078-",5.19,1.95]];
const jFT_arrows=[[0.82,3.77,1.08,3.49],[2.12,6.34,1.98,6.08],[2.21,5.72,2.1,5.38],[2.56,4.54,2.56,3.77],[2.68,4.54,2.76,4.18],[3.44,4.77,3.29,4.42],[4.2,2.38,4.2,1.85],[4.9,1.57,4.72,1.23]];

// Panel f: Au-S coordination number vs distance
const fType=["450","450","300","gray","square","450","300","450"];
const fR   =[2.32,2.36,2.35,2.37,2.40,2.41,2.42,2.45];
const fN   =[3.33,4.78,4.64,3.25,5.43,7.12,6.26,6.95];
const fRlo =[2.29,2.3305,2.34,2.32,2.396,2.40,2.41,2.43];
const fRhi =[2.35,2.39,2.36,2.42,2.41,2.42,2.4305,2.47];
const fNlo =[2.04,3.18,4.27,0.96,4.68,5.72,5.00,4.39];
const fNhi =[4.57,6.41,5.00,5.51,6.22,8.50,7.49,9.52];
const fErrColor=["#111","#777","#333","#aaa","#444","#666","#444","#777"];
const fRef=[{r:2.30,n:2.0,label:"Au\u2082S"}];
const fXticks=[2.25,2.30,2.35,2.40,2.45,2.50], fXminor=[2.275,2.325,2.375,2.425,2.475];
const fYticks=[0,2,4,6,8,10], fYminor=[1,3,5,7,9];
// arrows linking the spectra to their points
const arrowsBlack=[{x1:2.2878,y1:10.70,x2:2.3947,y2:5.66},{x1:2.3553,y1:10.70,x2:2.4138,y2:6.23},{x1:2.489,y1:10.73,x2:2.4095,y2:7.39},{x1:2.6174,y1:10.85,x2:2.4584,y2:7.42}];
const arrowsGray=[{x1:2.5568,y1:4.72,x2:2.376,y2:3.38}];
const arrowStarts=[{x:2.2878,y:10.70,kind:"square"},{x:2.3553,y:10.70,kind:"open"},{x:2.489,y:10.73,kind:"filled"},{x:2.6174,y:10.85,kind:"filled"},{x:2.5568,y:4.72,kind:"gray"}];

// ===================== DRAWING =====================
const fig=document.getElementById("fig");
const FONT='"Liberation Sans", Arial, Helvetica, sans-serif';
const RED="#ff1a1a";
const fmt=d=>(d<0?"-"+(-d):String(d));
const baseStyle={background:"transparent",overflow:"visible",fontFamily:FONT,fontSize:"11.5px",color:"#333"};
function place(el,left,top){el.style.position="absolute";el.style.left=left+"px";el.style.top=top+"px";el.style.maxWidth="none";fig.appendChild(el);}

function panel(c){
  const [x0,y0,x1,y1]=c.frame, fw=x1-x0, fh=y1-y0;
  const mL=40,mR=14,mT=10,mB=30;
  const marks=[
    Plot.tickY(c.yt,{y:d=>d,insetRight:fw-4,stroke:"#222"}),
    Plot.tickX(c.xt,{x:d=>d,insetTop:fh-4,stroke:"#222"})
  ];
  if(c.ym) marks.push(Plot.tickY(c.ym,{y:d=>d,insetRight:fw-2.5,stroke:"#222"}));
  if(c.xm) marks.push(Plot.tickX(c.xm,{x:d=>d,insetTop:fh-2.5,stroke:"#222"}));
  marks.push(
    Plot.axisY(c.yl||c.yt,{tickSize:0,tickPadding:4,tickFormat:fmt,fontSize:11.5,label:null}),
    Plot.axisX(c.xt,{tickSize:0,tickPadding:c.kind==="k"?4:7,tickFormat:fmt,fontSize:11.5,label:null}),
    Plot.line(c.exp,{x:d=>d[0],y:d=>d[1],stroke:"#141414",strokeWidth:0.9,curve:"monotone-x",clip:true}),
    Plot.line(c.fit,{x:d=>d[0],y:d=>d[1],stroke:RED,strokeWidth:1.7,strokeDasharray:"1.5 1.1",curve:"monotone-x",clip:true})
  );
  if(c.notes) marks.push(Plot.text(c.notes,{x:d=>d[1],y:d=>d[2],text:d=>d[0],fontSize:13,fontWeight:"bold",fill:"#111"}));
  if(c.arrows) marks.push(Plot.arrow(c.arrows,{x1:d=>d[0],y1:d=>d[1],x2:d=>d[2],y2:d=>d[3],stroke:"#333",strokeWidth:0.8,headLength:5}));
  marks.push(Plot.frame({stroke:"#222",strokeWidth:1}));
  const svg=Plot.plot({width:fw+mL+mR,height:fh+mT+mB,marginLeft:mL,marginRight:mR,marginTop:mT,marginBottom:mB,
    x:{domain:c.xd},y:{domain:c.yd},style:baseStyle,marks});
  place(svg,x0-mL,y0-mT);
}

// ---- panel f (drawn first so the small panels lie above it)
const fPts=fR.map((r,i)=>({r,n:fN[i],rlo:fRlo[i],rhi:fRhi[i],nlo:fNlo[i],nhi:fNhi[i],ec:fErrColor[i],type:fType[i]}));
const capH={draw(ctx,size){const h=Math.sqrt(size/Math.PI);ctx.moveTo(-h,0);ctx.lineTo(h,0);}};
const capV={draw(ctx,size){const h=Math.sqrt(size/Math.PI);ctx.moveTo(0,-h);ctx.lineTo(0,h);}};
const fXdom=[fXticks[0],fXticks[fXticks.length-1]], fYdom=[fYticks[0],fYticks[fYticks.length-1]];
const fplot=Plot.plot({
  width:720,height:490,marginLeft:138.3,marginRight:201.7,marginTop:45,marginBottom:66,
  x:{domain:fXdom},y:{domain:fYdom},color:{type:"identity"},
  style:{...baseStyle,color:"#1a1a1a"},
  marks:[
    Plot.axisY(fYticks,{tickSize:6,tickPadding:6,fontSize:22,label:null}),
    Plot.axisY(fYminor,{tickSize:3.5,tickFormat:()=>"",label:null}),
    Plot.axisX(fXticks,{tickSize:7,tickPadding:9,fontSize:22,tickFormat:d3.format(".2f"),label:null}),
    Plot.axisX(fXminor,{tickSize:4,tickFormat:()=>"",label:null}),
    Plot.ruleX([fXdom[0]],{y1:fYdom[0],y2:fYdom[1],stroke:"#111",strokeWidth:1.3}),
    Plot.ruleY([fYdom[0]],{x1:fXdom[0],x2:fXdom[1],stroke:"#111",strokeWidth:1.3}),
    Plot.link(arrowsBlack,{x1:"x1",y1:"y1",x2:"x2",y2:"y2",stroke:"#000",strokeWidth:3.2}),
    Plot.link(arrowsGray,{x1:"x1",y1:"y1",x2:"x2",y2:"y2",stroke:"#777",strokeWidth:3.2}),
    Plot.dot(arrowStarts.filter(d=>d.kind==="square"),{x:"x",y:"y",symbol:"square",r:12,fill:"#000"}),
    Plot.dot(arrowStarts.filter(d=>d.kind==="open"),{x:"x",y:"y",r:10,fill:"#fff",stroke:"#000",strokeWidth:1.5}),
    Plot.dot(arrowStarts.filter(d=>d.kind==="filled"),{x:"x",y:"y",r:10,fill:"#000"}),
    Plot.dot(arrowStarts.filter(d=>d.kind==="gray"),{x:"x",y:"y",r:10,fill:"#777"}),
    Plot.ruleX(fPts,{x:"r",y1:"nlo",y2:"nhi",stroke:"ec",strokeWidth:1.2}),
    Plot.ruleY(fPts,{y:"n",x1:"rlo",x2:"rhi",stroke:"ec",strokeWidth:1.2}),
    Plot.dot(fPts,{x:"r",y:"nlo",symbol:capH,r:3.5,fill:"none",stroke:"ec",strokeWidth:1.2}),
    Plot.dot(fPts,{x:"r",y:"nhi",symbol:capH,r:3.5,fill:"none",stroke:"ec",strokeWidth:1.2}),
    Plot.dot(fPts,{x:"rlo",y:"n",symbol:capV,r:3.5,fill:"none",stroke:"ec",strokeWidth:1.2}),
    Plot.dot(fPts,{x:"rhi",y:"n",symbol:capV,r:3.5,fill:"none",stroke:"ec",strokeWidth:1.2}),
    Plot.dot(fPts.filter(d=>d.type==="450"),{x:"r",y:"n",r:6.3,fill:"#000"}),
    Plot.dot(fPts.filter(d=>d.type==="300"),{x:"r",y:"n",r:6.3,fill:"none",stroke:"#000",strokeWidth:1.3}),
    Plot.dot(fPts.filter(d=>d.type==="gray"),{x:"r",y:"n",r:6.3,fill:"#777"}),
    Plot.dot(fPts.filter(d=>d.type==="square"),{x:"r",y:"n",symbol:"square",r:9,fill:"#000"}),
    Plot.dot(fRef,{x:"r",y:"n",symbol:"diamond2",r:7,fill:"#000"}),
    Plot.text(fRef,{x:"r",y:"n",text:"label",dx:9,dy:27,fontSize:22,fontWeight:"bold",fill:"#111"})
  ]
});
place(fplot,0,400);
{
  const s=d3.select(fplot);
  const defs=s.insert("defs",":first-child");
  const mk=(id,color,L,W)=>defs.append("marker").attr("id",id).attr("viewBox",`0 0 ${L} ${W}`)
    .attr("refX",L).attr("refY",W/2).attr("markerWidth",L).attr("markerHeight",W)
    .attr("markerUnits","userSpaceOnUse").attr("orient","auto")
    .append("path").attr("d",`M0,0L${L},${W/2}L0,${W}Z`).attr("fill",color);
  mk("headBlack","#000",21,17); mk("headGray","#777",19,15);
  const groups=s.selectAll('g[aria-label="link"]').nodes();
  if(groups[0]) d3.select(groups[0]).selectAll("path").attr("marker-end","url(#headBlack)").attr("stroke-linecap","butt");
  if(groups[1]) d3.select(groups[1]).selectAll("path").attr("marker-end","url(#headGray)").attr("stroke-linecap","butt");
}

// ---- small spectra panels (yl = tick labels that are not hidden behind the letter badges)
const panels=[
 {frame:[48,77.7,219,196.7],xd:[3,11],yd:[-3.08,3.59],xt:[4,6,8,10],xm:[3,5,7,9,11],yt:[-2,0,2],ym:[-3,-1,1,3],exp:aK_exp,fit:aK_fit,kind:"k"},
 {frame:[257.2,77.7,428.7,194.3],xd:[3,11],yd:[-2.53,2.35],xt:[4,6,8,10],xm:[3,5,7,9,11],yt:[-2,-1,0,1,2],yl:[-2,-1,0,1],ym:[-2.5,-1.5,-0.5,0.5,1.5],exp:bK_exp,fit:bK_fit,kind:"k"},
 {frame:[471.7,80,643,198],xd:[3,11],yd:[-2.49,2.04],xt:[4,6,8,10],xm:[3,5,7,9,11],yt:[-2,-1,0,1,2],yl:[-2,-1,0,1],ym:[-1.5,-0.5,0.5,1.5],exp:cK_exp,fit:cK_fit,kind:"k"},
 {frame:[683.6,80,855.5,196.7],xd:[3,11],yd:[-1.67,2.15],xt:[4,6,8,10],xm:[3,5,7,9,11],yt:[-1,0,1,2],yl:[-1,0,1],ym:[-1.5,-0.5,0.5,1.5],exp:dK_exp,fit:dK_fit,kind:"k"},
 {frame:[656,524,827.5,642.7],xd:[3,11],yd:[-1.78,1.68],xt:[4,6,8,10],xm:[3,5,7,9,11],yt:[-1,0,1],yl:[-1,0],ym:[-1.5,-0.5,0.5,1.5],exp:eK_exp,fit:eK_fit,kind:"k"},
 {frame:[48,235,219,386.7],xd:[0,8],yd:[0,2.5],xt:[0,2,4,6,8],xm:[1,3,5,7],yt:[0,0.5,1,1.5,2,2.5],exp:aFT_exp,fit:aFT_fit,notes:aFT_notes,arrows:aFT_arrows,kind:"R"},
 {frame:[260,235,433,386.7],xd:[0,6],yd:[-0.025,2.22],xt:[0,2,4,6],xm:[1,3,5],yt:[0,0.5,1,1.5,2],exp:bFT_exp,fit:bFT_fit,notes:bFT_notes,arrows:bFT_arrows,kind:"R"},
 {frame:[471.7,237.7,643,388.3],xd:[0,6],yd:[-0.005,2.01],xt:[0,2,4,6],xm:[1,3,5],yt:[0,0.4,0.8,1.2,1.6,2],ym:[0.2,0.6,1.0,1.4,1.8],exp:cFT_exp,fit:cFT_fit,notes:cFT_notes,arrows:cFT_arrows,kind:"R"},
 {frame:[684.3,237.7,856.7,388.3],xd:[0,6],yd:[-0.005,2.01],xt:[0,2,4,6],xm:[1,3,5],yt:[0,0.4,0.8,1.2,1.6,2],ym:[0.2,0.6,1.0,1.4,1.8],exp:dFT_exp,fit:dFT_fit,notes:dFT_notes,arrows:dFT_arrows,kind:"R"},
 {frame:[653.3,690.7,825.7,836.7],xd:[0,6],yd:[-0.05,1.4],xt:[0,2,4,6],xm:[1,3,5],yt:[0,0.4,0.8,1.2],ym:[0.2,0.6,1.0],exp:eFT_exp,fit:eFT_fit,notes:eFT_notes,arrows:eFT_arrows,kind:"R"},
 {frame:[49.3,960,220.7,1074.3],xd:[2,12],yd:[-6.4,6.67],xt:[2,4,6,8,10,12],xm:[3,5,7,9,11],yt:[-4,0,4],yl:[-4,0],ym:[-6,-2,2,6],exp:gK_exp,fit:gK_fit,kind:"k"},
 {frame:[268.3,960.7,439,1074.3],xd:[2,13],yd:[-16.45,14.2],xt:[4,8,12],xm:[6,10],yt:[-16,-8,0,8],yl:[-16,-8,0],ym:[-12,-4,4,12],exp:hK_exp,fit:hK_fit,kind:"k"},
 {frame:[476.7,958.3,649,1072.7],xd:[2,11],yd:[-6.9,9.9],xt:[2,4,6,8,10],xm:[3,5,7,9],yt:[-4,0,4,8],yl:[-4,0,4],ym:[-6,-2,2,6],exp:iK_exp,fit:iK_fit,kind:"k"},
 {frame:[683.3,958.3,855,1071.7],xd:[2,12],yd:[-8.24,7.5],xt:[2,4,6,8,10,12],xm:[3,5,7,9,11],yt:[-8,-4,0,4],yl:[-8,-4,0],ym:[-6,-2,2,6],exp:jK_exp,fit:jK_fit,kind:"k"},
 {frame:[46.7,1114,218.3,1265.7],xd:[0,6],yd:[0,8.05],xt:[0,2,4,6],xm:[1,3,5],yt:[0,2,4,6,8],ym:[1,3,5,7],exp:gFT_exp,fit:gFT_fit,notes:gFT_notes,arrows:gFT_arrows,kind:"R"},
 {frame:[265.7,1116.7,438.7,1267.7],xd:[0,6],yd:[0,18],xt:[0,2,4,6],xm:[1,3,5],yt:[0,4,8,12,16],ym:[2,6,10,14],exp:hFT_exp,fit:hFT_fit,notes:hFT_notes,arrows:hFT_arrows,kind:"R"},
 {frame:[475,1112.7,646,1263.3],xd:[0,5],yd:[0,8],xt:[0,1,2,3,4,5],yt:[0,2,4,6,8],ym:[1,3,5,7],exp:iFT_exp,fit:iFT_fit,notes:iFT_notes,arrows:iFT_arrows,kind:"R"},
 {frame:[681.7,1115,853.3,1266.7],xd:[0,6],yd:[0,7],xt:[0,2,4,6],xm:[1,3,5],yt:[0,2,4,6],ym:[1,3,5],exp:jFT_exp,fit:jFT_fit,notes:jFT_notes,arrows:jFT_arrows,kind:"R"}
];
panels.forEach(panel);

// ---- text (titles, axis titles), badges, legend
function txt(html,x,y,size,rot){const d=document.createElement("div");d.className="t"+(rot?" rot":"");d.style.left=x+"px";d.style.top=y+"px";d.style.fontSize=size+"px";d.innerHTML=html;fig.appendChild(d);}
txt("Au <i>L</i><sub><i>3</i></sub>-edge",466,22,28);
txt("As <i>K</i>-edge",459,908,28);
const panelTitles=[
 ["No. 8522 (Au-As-bearing Py)",142.5,53.3],["Cu-Au-porphyry deposit",142.5,68.3],
 ["No. 17/1 (As-free Py)",342.7,53.3],["300 °C/ Psat",343,68.3],
 ["No. 8 (As-free Py)",558.3,53.3],["450 °C/ 1 kbar",560.8,68.3],
 ["No. 10 (As-bearing Py)",770.8,53.3],["450 °C/ 1 kbar",770.8,68.3],
 ["No. 17/2 (As-bearing Py+Asp)",743.3,501.7],["300 °C/ Psat",745,517.3],
 ["No. 8522 (Au-As-bearing Py)",136.7,933.3],["Au-porphyry deposit",136.7,950],
 ["No. Vr-134-7 (Au-As-bearing Py)",362.5,933.3],["Carlin-type deposit",361.7,950],
 ["No. 17/2 (As-bearing",566.3,933.3],["Py+Asp) 300 °C/ Psat",569,950],
 ["No. 10 (As-bearing&nbsp; Py)",774.2,933.3],["450 °C/ 1 kbar",774.5,950]];
panelTitles.forEach(([s,x,y])=>txt(s,x,y,15));
const CHI="<i>chi</i>(k) k<sup>2</sup>", KL="<i>k</i> (Å<sup>-1</sup>)";
[[28,137],[243,137],[450,139],[663.3,138],[630.7,580],[25,1017.5],[240,1017.5],[455,1015],[663.3,1015]].forEach(([x,y])=>txt(CHI,x,y,14,true));
[[133.5,227],[346,227],[558.3,226.7],[770.7,226.7],[741.7,671.7],[133.3,1108.3],[353.3,1108.3],[561.7,1106],[770.3,1106]].forEach(([x,y])=>txt(KL,x,y,14.5));
[[19,315],[244.3,315],[441.7,311.7],[654,311.7],[621.7,751.7],[26.7,1191.7],[240.7,1191.7],[455,1190],[663.3,1190]].forEach(([x,y])=>txt("FT",x,y,15,true));
[[134,419],[345.8,419],[559,419],[771,419],[739.5,865],[131.7,1295.5],[351.7,1295.5],[557.5,1291],[771.3,1292]].forEach(([x,y])=>txt("R (Å)",x,y,14.5));
txt("<i>N</i><sub>S</sub> (coordination number)",82,635,24,true);
txt("<i>R</i><sub>Au-S</sub>, Å (interatomic distance)",328,881.7,24);
const badges=[["a",32,78],["b",253.3,78.3],["c",461,80],["d",676.7,80],["e",648,535],["f",59,452],["g",38.3,970],["h",261.7,970],["i",472.7,968.3],["j",679.3,968.3]];
badges.forEach(([l,x,y])=>{const b=document.createElement("div");b.className="badge";b.style.left=x+"px";b.style.top=y+"px";b.textContent=l;fig.appendChild(b);});
const lg=document.createElement("div");lg.className="legend";
Object.assign(lg.style,{left:"392.5px",top:"745.7px",width:"162px",height:"65px"});
lg.innerHTML='<div class="dot" style="left:4px;top:7px;background:#000"></div>'+
 '<div class="it" style="left:33px;top:5px">Py (450 °C)</div>'+
 '<div class="dot" style="left:4px;top:34px;border:1.3px solid #000;background:#fff"></div>'+
 '<div class="it" style="left:33px;top:32px">Py (300 °C)</div>';
fig.appendChild(lg);
</script></body></html>
